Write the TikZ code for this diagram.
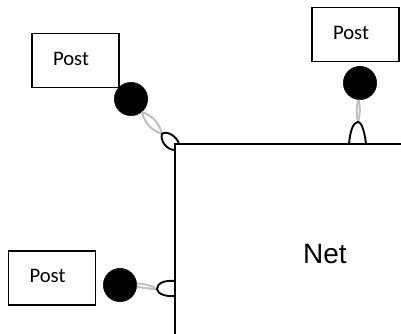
\documentclass[tikz,border=0pt]{standalone}
\usepackage{fontspec}
\setmainfont{Carlito}
\newfontfamily\netfont{Liberation Sans}
\newcommand{\postlabel}{\raisebox{2.5pt}{Post}\kern6.75pt}
\tikzset{
    postbox/.style={draw, line width=1.1pt, minimum width=65pt, minimum height=40.5pt, inner sep=0pt, font=\fontsize{15.5}{18}\selectfont},
    joint/.style={circle, fill=black, draw=black, minimum size=25pt, inner sep=0pt},
    greylink/.style={draw=black!25, line width=1.5pt},
    cuplink/.style={draw=black, line width=1.4pt},
    netline/.style={draw=black, line width=1.5pt, line cap=rect}
}
\begin{document}
\begin{tikzpicture}[x=0.75pt, y=-0.75pt]
    \useasboundingbox (0,0) rectangle (401,333);

    % Net
    \coordinate (netleft) at (175,340);
    \coordinate (netcorner) at (175,144);
    \coordinate (netright) at (408,144);
    \draw[netline] (netleft) -- (netcorner) -- (netright);
    \node[font=\netfont\fontsize{21}{24}\selectfont] (net) at (325,254) {Net};

    % Post
    \node[postbox] (postA) at (75.5,60.5) {\postlabel};
    \node[postbox] (postB) at (355.5,34.5) {\postlabel};
    \node[postbox] (postC) at (52,278) {\postlabel};

    % Joints
    \node[joint] (jointA) at (131,99) {};
    \node[joint] (jointB) at (360,83) {};
    \node[joint] (jointC) at (120,285) {};

    % Punte
    \coordinate (tipA) at (162,134);
    \coordinate (tipB) at (358,122);
    \coordinate (tipC) at (157,289);
    \coordinate (footAa) at (179,144);
    \coordinate (footAb) at (175,150);
    \coordinate (footBa) at (349,144);
    \coordinate (footBb) at (366,144);
    \coordinate (footCa) at (175,281);
    \coordinate (footCb) at (175,296);

    % Collegamenti grigi
    \draw[greylink] (jointA.-50) to[bend left=28] (tipA);
    \draw[greylink] (jointA.-50) to[bend right=28] (tipA);
    \draw[greylink] (jointB.-95) to[bend left=14] (tipB);
    \draw[greylink] (jointB.-95) to[bend right=14] (tipB);
    \draw[greylink] (jointC.5) to[bend left=14] (tipC);
    \draw[greylink] (jointC.-5) to[bend right=6] (tipC);

    % Archi neri
    \draw[cuplink] (footAa) .. controls (177,136) and (166,130) .. (tipA) .. controls (160,140) and (166,150) .. (footAb);
    \draw[cuplink] (footBa) .. controls (350,132) and (353,122) .. (tipB) .. controls (362,122) and (365,134) .. (footBb);
    \draw[cuplink] (footCa) .. controls (165,280) and (157,283) .. (tipC) .. controls (157,294) and (167,297) .. (footCb);
\end{tikzpicture}
\end{document}
